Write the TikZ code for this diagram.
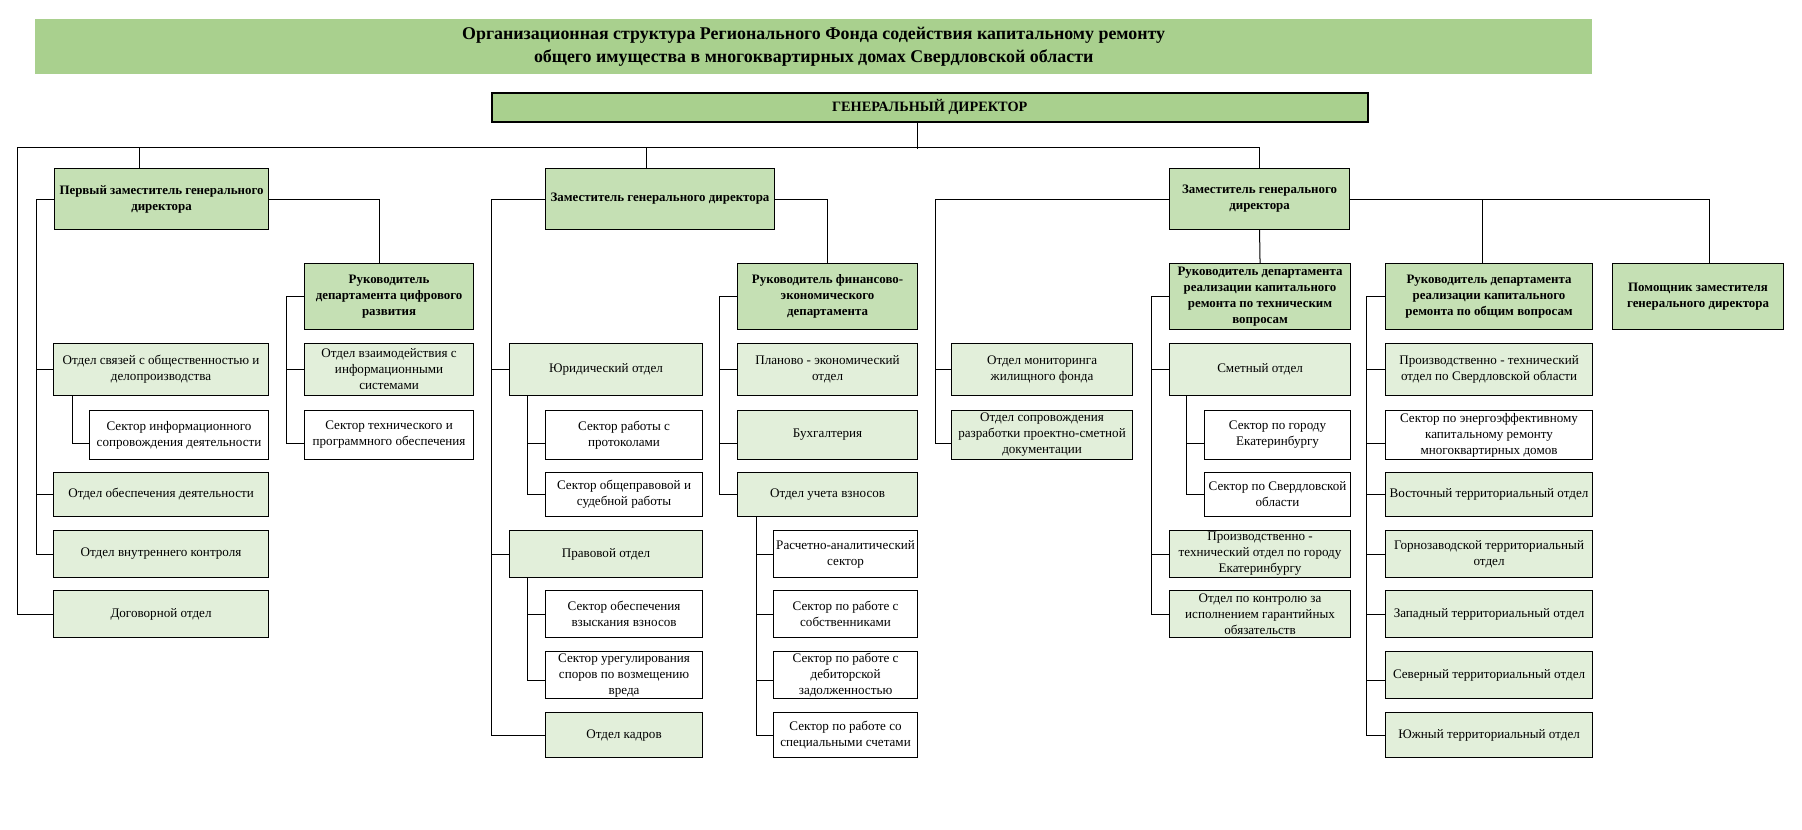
\documentclass[tikz,border=0pt]{standalone}
\usepackage{fontspec}
\setmainfont{Liberation Serif}
\definecolor{topgreen}{HTML}{A9D08E}
\definecolor{midgreen}{HTML}{C5E0B4}
\definecolor{palegreen}{HTML}{E2EFDA}
\tikzset{
  unit/.style={draw, line width=1.1pt, align=center, inner sep=1pt,
    anchor=north west, font=\fontsize{13.1}{16}\selectfont},
  chief/.style={unit, fill=midgreen, font=\bfseries\fontsize{12.9}{16}\selectfont},
  dept/.style={unit, fill=palegreen},
  sector/.style={unit, fill=white},
  size/.style 2 args={minimum width=#1, minimum height=#2},
  link/.style={line width=1pt}
}
\begin{document}
\begin{tikzpicture}[x=1pt,y=-1pt]
    \useasboundingbox (0,0) rectangle (1802,830);

    \node[anchor=north west, fill=topgreen, size={1557}{55}, align=center,
      font=\bfseries\fontsize{17.9}{23}\selectfont] (title) at (35,19)
      {Организационная структура Регионального Фонда содействия капитальному ремонту\\
       общего имущества в многоквартирных домах Свердловской области};
    \node[chief, fill=topgreen, line width=1.5pt, size={876}{29},
      font=\bfseries\fontsize{14.3}{16}\selectfont] (gd) at (491,92) {ГЕНЕРАЛЬНЫЙ ДИРЕКТОР};

    % deputies
    \node[chief, size={214}{61}] (d1) at (54,168) {Первый заместитель генерального\\директора};
    \node[chief, size={229}{61}] (d2) at (545,168) {Заместитель генерального директора};
    \node[chief, size={180}{61}] (d3) at (1169,168) {Заместитель генерального\\директора};

    % heads of departments
    \node[chief, size={169}{66}] (dig) at (304,263) {Руководитель\\департамента  цифрового\\развития};
    \node[chief, size={180}{66}] (fin) at (737,263) {Руководитель финансово-\\экономического\\департамента};
    \node[chief, size={181}{66}] (tech) at (1169,263) {Руководитель департамента\\реализации капитального\\ремонта по техническим\\вопросам};
    \node[chief, size={207}{66}] (gen) at (1385,263) {Руководитель департамента\\реализации капитального\\ремонта по общим вопросам};
    \node[chief, size={171}{66}] (pom) at (1612,263) {Помощник заместителя\\генерального директора};

    % first row
    \node[dept, size={215}{52}] (svz) at (53,343) {Отдел связей с общественностью и\\делопроизводства};
    \node[dept, size={169}{52}] (ovz) at (304,343) {Отдел взаимодействия с\\информационными\\системами};
    \node[dept, size={193}{52}] (jur) at (509,343) {Юридический отдел};
    \node[dept, size={180}{52}] (plan) at (737,343) {Планово - экономический\\отдел};
    \node[dept, size={181}{52}] (mon) at (951,343) {Отдел мониторинга\\жилищного фонда};
    \node[dept, size={181}{52}] (smet) at (1169,343) {Сметный отдел};
    \node[dept, size={207}{52}] (pts) at (1385,343) {Производственно - технический\\отдел по Свердловской области};

    % second row
    \node[sector, size={179}{49}] (sip) at (89,410) {Сектор информационного\\сопровождения деятельности};
    \node[sector, size={169}{49}] (stp) at (304,410) {Сектор технического и\\программного обеспечения};
    \node[sector, size={157}{49}] (prot) at (545,410) {Сектор работы с\\протоколами};
    \node[dept, size={180}{49}] (buh) at (737,410) {Бухгалтерия};
    \node[dept, size={181}{49}] (ps) at (951,410) {Отдел сопровождения\\разработки проектно-сметной\\документации};
    \node[sector, size={146}{49}] (ekb) at (1204,410) {Сектор по городу\\Екатеринбургу};
    \node[sector, size={207}{49}] (energ) at (1385,410) {Сектор по энергоэффективному\\капитальному ремонту\\многоквартирных домов};

    % third row
    \node[dept, size={215}{44}] (obs) at (53,472) {Отдел обеспечения деятельности};
    \node[sector, size={157}{44}] (obsch) at (545,472) {Сектор общеправовой и\\судебной работы};
    \node[dept, size={180}{44}] (uch) at (737,472) {Отдел учета взносов};
    \node[sector, size={146}{44}] (sverd) at (1204,472) {Сектор по Свердловской\\области};
    \node[dept, size={207}{44}] (vost) at (1385,472) {Восточный территориальный отдел};

    % fourth row
    \node[dept, size={215}{47}] (vnk) at (53,530) {Отдел внутреннего контроля};
    \node[dept, size={193}{47}] (prav) at (509,530) {Правовой отдел};
    \node[sector, size={144}{47}] (rasch) at (773,530) {Расчетно-аналитический\\сектор};
    \node[dept, size={181}{47}] (ptg) at (1169,530) {Производственно -\\технический отдел по городу\\Екатеринбургу};
    \node[dept, size={207}{47}] (gorn) at (1385,530) {Горнозаводской территориальный\\отдел};

    % fifth row
    \node[dept, size={215}{47}] (dog) at (53,590) {Договорной отдел};
    \node[sector, size={157}{47}] (vzysk) at (545,590) {Сектор обеспечения\\взыскания взносов};
    \node[sector, size={144}{47}] (sobst) at (773,590) {Сектор по работе с\\собственниками};
    \node[dept, size={181}{47}] (kontr) at (1169,590) {Отдел по контролю за\\исполнением гарантийных\\обязательств};
    \node[dept, size={207}{47}] (zap) at (1385,590) {Западный территориальный отдел};

    % sixth row
    \node[sector, size={157}{47}] (spor) at (545,651) {Сектор урегулирования\\споров по возмещению\\вреда};
    \node[sector, size={144}{47}] (debit) at (773,651) {Сектор по работе с\\дебиторской\\задолженностью};
    \node[dept, size={207}{47}] (sev) at (1385,651) {Северный территориальный отдел};

    % seventh row
    \node[dept, size={157}{45}] (kad) at (545,712) {Отдел кадров};
    \node[sector, size={144}{45}] (spec) at (773,712) {Сектор по работе со\\специальными счетами};
    \node[dept, size={207}{45}] (yuzh) at (1385,712) {Южный территориальный отдел};

    % main bus
    \coordinate (busL) at (17,147);
    \draw[link] ([xshift=-12pt]gd.south) -- ++(0,26);
    \draw[link] (dog.west) -| (busL) -- (busL -| d3.north) -- (d3.north);
    \draw[link] ([xshift=-22pt]d1.north) -- ++(0,-21);
    \draw[link] ([xshift=-13.5pt]d2.north) -- ++(0,-21);

    % first deputy
    \draw[link] (d1.west) -- ++(-18,0) coordinate (s1) |- (vnk.west);
    \foreach \n in {svz,obs} \draw[link] (s1) |- (\n.west);
    \draw[link] ([xshift=19pt]svz.south west) |- ([yshift=-8pt]sip.west);
    \draw[link] (d1.east) -| ([xshift=-9.5pt]dig.north);
    \draw[link] (dig.west) -- ++(-18,0) coordinate (s2) |- ([yshift=-8pt]stp.west);
    \draw[link] (s2) |- (ovz.west);

    % second deputy
    \draw[link] (d2.west) -- ++(-54,0) coordinate (s3) |- (kad.west);
    \foreach \n in {jur,prav} \draw[link] (s3) |- (\n.west);
    \draw[link] ([xshift=18pt]jur.south west) |- (obsch.west);
    \draw[link] ([xshift=18pt]jur.south west) |- ([yshift=-8pt]prot.west);
    \draw[link] ([xshift=18pt]prav.south west) |- ([yshift=-5.5pt]spor.west);
    \draw[link] ([xshift=18pt]prav.south west) |- (vzysk.west);
    \draw[link] (d2.east) -| (fin.north);
    \draw[link] (fin.west) -- ++(-18,0) coordinate (s4) |- (uch.west);
    \draw[link] (s4) |- (plan.west);
    \draw[link] (s4) |- ([yshift=-8pt]buh.west);
    \draw[link] ([xshift=19pt]uch.south west) coordinate (s5) |- (spec.west);
    \foreach \n in {rasch,sobst} \draw[link] (s5) |- (\n.west);
    \draw[link] (s5) |- ([yshift=-5.5pt]debit.west);

    % third deputy
    \draw[link] (d3.west) -- ++(-234,0) coordinate (s6) |- ([yshift=-8pt]ps.west);
    \draw[link] (s6) |- (mon.west);
    \draw[link] (d3.south) -- (tech.north);
    \draw[link] (tech.west) -- ++(-18,0) coordinate (s7) |- (kontr.west);
    \foreach \n in {smet,ptg} \draw[link] (s7) |- (\n.west);
    \draw[link] ([xshift=17pt]smet.south west) |- (sverd.west);
    \draw[link] ([xshift=17pt]smet.south west) |- ([yshift=-8pt]ekb.west);
    \draw[link] (d3.east) -| ([xshift=11.5pt]pom.north);
    \draw[link] (d3.east) -| ([xshift=-6.5pt]gen.north);
    \draw[link] (gen.west) -- ++(-19,0) coordinate (s8) |- (yuzh.west);
    \foreach \n in {pts,vost,gorn,zap} \draw[link] (s8) |- (\n.west);
    \draw[link] (s8) |- ([yshift=-8pt]energ.west);
    \draw[link] (s8) |- ([yshift=-5.5pt]sev.west);
\end{tikzpicture}
\end{document}
